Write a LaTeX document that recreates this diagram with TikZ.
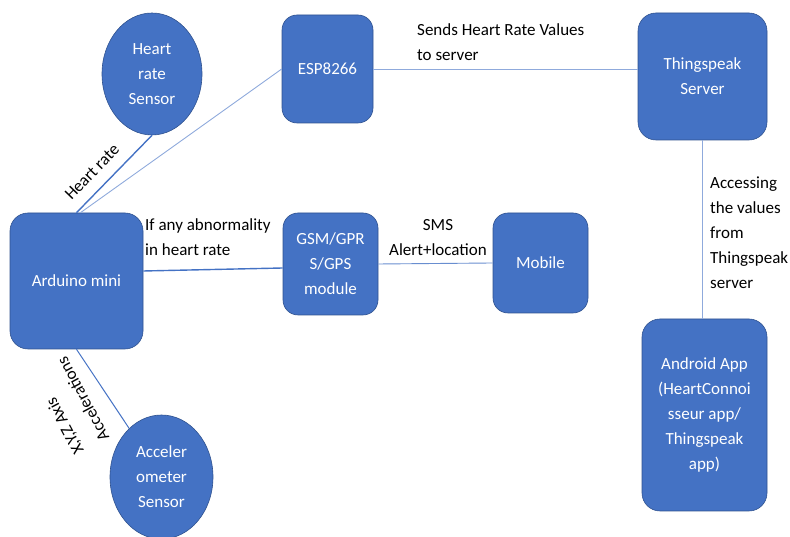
\documentclass[tikz,border=0pt]{standalone}
\usepackage{fontspec}
\setmainfont{Carlito}
\usepackage{tikz}
\usetikzlibrary{shapes.geometric}
\definecolor{officeblue}{HTML}{4472C4}
\definecolor{edgeblue}{HTML}{2F528F}
\definecolor{lightline}{HTML}{8FAADC}

\begin{document}
\begin{tikzpicture}[x=1pt, y=1pt, font=\fontsize{17}{25}\selectfont,
    box/.style={draw=edgeblue, line width=0.6pt, fill=officeblue, rounded corners=15pt, text=white, align=center, inner sep=0pt},
    sensor/.style={ellipse, draw=edgeblue, line width=0.6pt, fill=officeblue, text=white, align=center, inner sep=0pt},
    lbl/.style={inner sep=0pt, text=black},
    link/.style={officeblue, line width=1.4pt},
    thinlink/.style={lightline, line width=0.9pt}]
            \useasboundingbox (0,0) rectangle (790,537);
            % blocks
            \node[sensor, minimum width=100pt, minimum height=122pt] (hr) at (152,463) {Heart\\rate\\Sensor};
            \node[box, minimum width=91pt, minimum height=108pt] (esp) at (327.5,468) {ESP8266};
            \node[box, minimum width=129pt, minimum height=127pt, rounded corners=18pt] (ts) at (702.5,460.5) {Thingspeak\\Server};
            \node[box, minimum width=133pt, minimum height=136pt, rounded corners=18pt] (ard) at (76.5,256) {Arduino mini};
            \node[box, minimum width=95pt, minimum height=102pt] (gsm) at (330.5,273) {GSM/GPR\\S/GPS\\module};
            \node[box, minimum width=95pt, minimum height=100pt] (mob) at (540.5,274) {Mobile};
            \node[box, minimum width=125pt, minimum height=192pt, rounded corners=18pt] (app) at (704.5,122) {Android App\\(HeartConnoi\\sseur app/\\Thingspeak\\app)};
            \node[sensor, minimum width=103pt, minimum height=124pt] (acc) at (161.5,60) {Acceler\\ometer\\Sensor};
            % connectors
            \draw[link] (ard.north) -- (hr.south);
            \draw[thinlink] ([xshift=4pt]ard.north) -- (esp.west);
            \draw[thinlink] (esp.east) -- (esp.east -| ts.west);
            \draw[thinlink] (ts.south) -- (ts.south |- app.north);
            \draw[link] ([yshift=10pt]ard.east) -- ([yshift=-4pt]gsm.west);
            \draw[thinlink, officeblue!80] (gsm.east) -- (mob.west);
            \draw[link, line width=1pt] (ard.south) -- (acc);
            % labels
            \node[lbl, rotate=46] (hrlbl) at (92,365) {Heart rate};
            \node[lbl, anchor=north west, align=left] (sendlbl) at (417,513) {Sends Heart Rate Values\\to server};
            \node[lbl, anchor=north west, align=left] (abnlbl) at (145,318) {If any abnormality\\in heart rate};
            \node[lbl, anchor=north, align=center] (smslbl) at (438,318) {SMS\\Alert+location};
            \node[lbl, anchor=north west, align=left] (acclbl) at (710,360) {Accessing\\the values\\from\\Thingspeak\\server};
            \node[lbl, rotate=118, align=left, font=\fontsize{17}{29}\selectfont] (axislbl) at (70,131) {X,Y,Z Axis\\Accelerations};
\end{tikzpicture}
\end{document}
